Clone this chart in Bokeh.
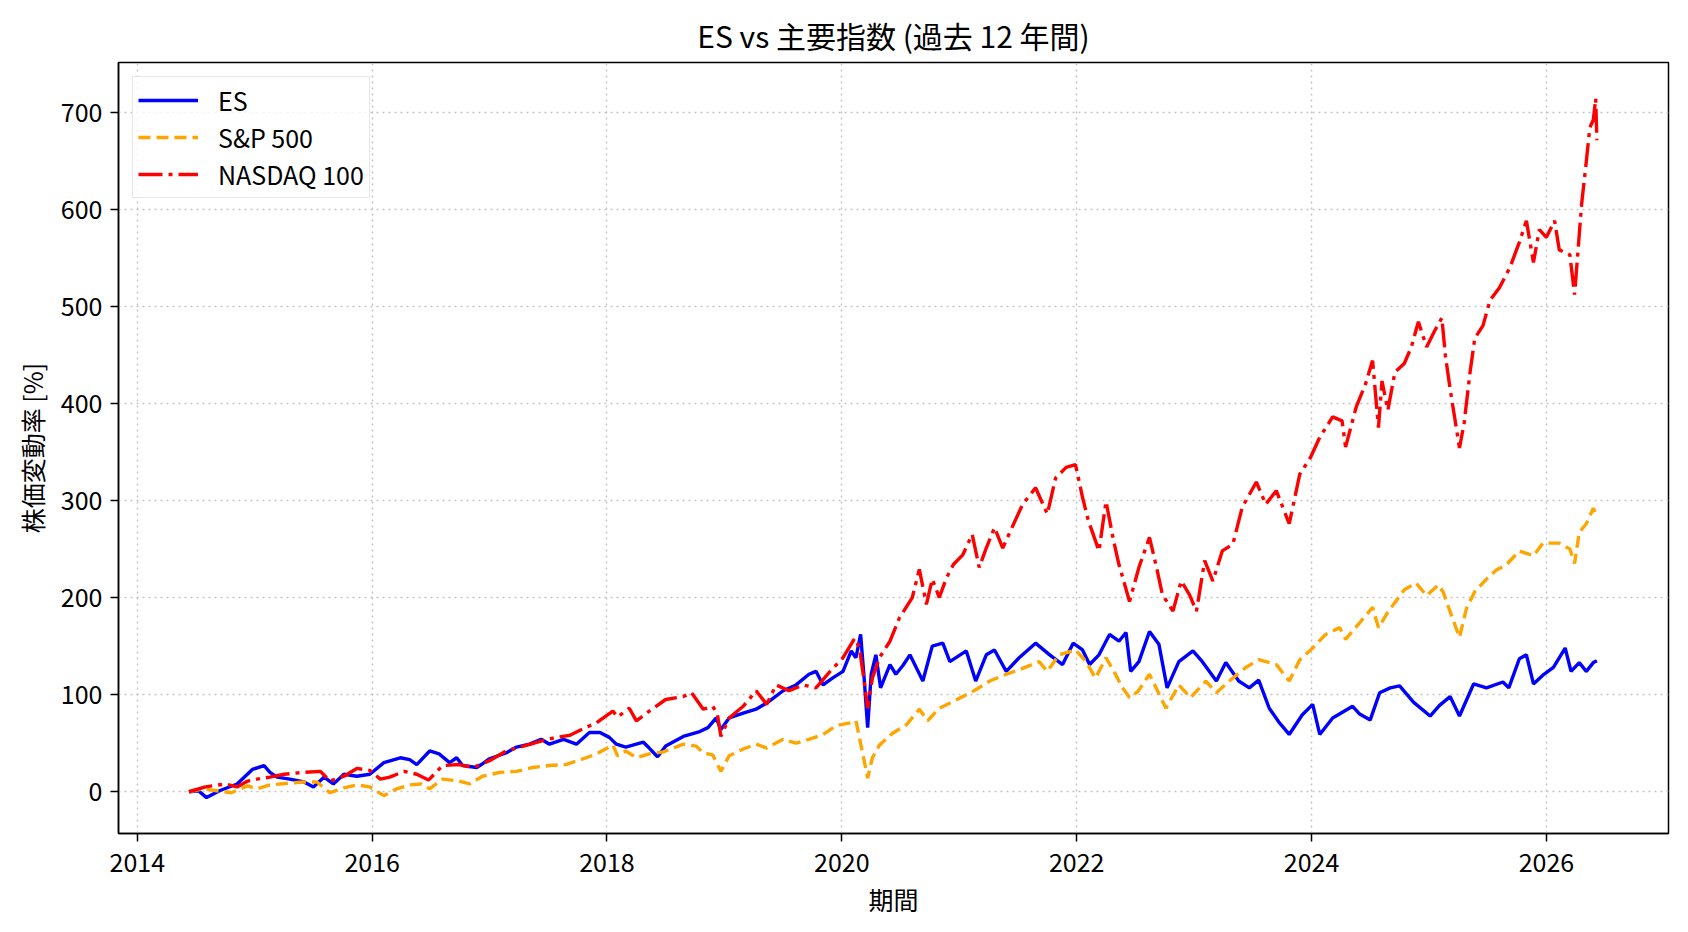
from bokeh.plotting import figure
from bokeh.models import Range1d, FixedTicker, Legend, LegendItem
from bokeh.embed import file_html
from bokeh.resources import INLINE

FONT = "Noto Sans CJK JP"

TITLE = "ES vs 主要指数 (過去 12 年間)"
X_LABEL = "期間"
Y_LABEL = "株価変動率 [%]"
X_TICKS = [2014, 2016, 2018, 2020, 2022, 2024, 2026]
Y_TICKS = [0, 100, 200, 300, 400, 500, 600, 700]

es_x = [2014.44, 2014.52, 2014.59, 2014.70, 2014.85, 2014.98, 2015.08, 2015.13, 2015.19, 2015.30,
        2015.42, 2015.50, 2015.59, 2015.67, 2015.76, 2015.87, 2015.98, 2016.10, 2016.24, 2016.32,
        2016.38, 2016.49, 2016.57, 2016.66, 2016.72, 2016.77, 2016.89, 2016.93, 2017.00, 2017.14,
        2017.23, 2017.34, 2017.44, 2017.51, 2017.63, 2017.74, 2017.85, 2017.94, 2018.02, 2018.08,
        2018.16, 2018.31, 2018.36, 2018.43, 2018.50, 2018.65, 2018.79, 2018.86, 2018.93, 2018.97,
        2019.04, 2019.16, 2019.27, 2019.38, 2019.50, 2019.61, 2019.72, 2019.78, 2019.84, 2019.92,
        2020.01, 2020.08, 2020.12, 2020.16, 2020.19, 2020.22, 2020.25, 2020.29, 2020.33, 2020.41,
        2020.46, 2020.52, 2020.58, 2020.69, 2020.77, 2020.86, 2020.92, 2021.06, 2021.14, 2021.23,
        2021.30, 2021.40, 2021.51, 2021.65, 2021.77, 2021.88, 2021.97, 2022.05, 2022.11, 2022.19,
        2022.28, 2022.36, 2022.42, 2022.46, 2022.53, 2022.62, 2022.70, 2022.77, 2022.87, 2022.99,
        2023.07, 2023.19, 2023.27, 2023.38, 2023.47, 2023.55, 2023.64, 2023.72, 2023.81, 2023.92,
        2024.01, 2024.07, 2024.18, 2024.35, 2024.41, 2024.50, 2024.58, 2024.67, 2024.75, 2024.87,
        2025.01, 2025.09, 2025.18, 2025.26, 2025.38, 2025.49, 2025.63, 2025.68, 2025.77, 2025.83,
        2025.89, 2025.97, 2026.06, 2026.16, 2026.21, 2026.28, 2026.34, 2026.40, 2026.43]
es_y = [0, 1, -6, 1, 8, 23, 27, 20, 15, 13,
        10, 5, 15, 8, 18, 16, 18, 30, 35, 33,
        28, 42, 39, 30, 35, 27, 25, 28, 34, 40,
        46, 49, 54, 49, 54, 49, 61, 61, 56, 49,
        46, 51, 45, 36, 47, 57, 62, 66, 76, 64,
        76, 81, 85, 93, 104, 110, 121, 124, 110, 117,
        124, 145, 138, 162, 117, 66, 121, 141, 107, 131,
        121, 130, 141, 114, 150, 153, 134, 145, 114, 141,
        146, 124, 138, 153, 141, 131, 153, 146, 131, 141,
        162, 155, 164, 124, 134, 165, 152, 107, 134, 145,
        134, 114, 133, 114, 107, 115, 86, 72, 59, 79,
        90, 59, 76, 88, 80, 74, 102, 107, 109, 92,
        78, 89, 98, 78, 111, 107, 113, 107, 137, 141,
        111, 120, 128, 148, 124, 133, 124, 133, 135]

sp_x = [2014.44, 2014.56, 2014.80, 2014.94, 2015.02, 2015.13, 2015.30, 2015.42, 2015.53, 2015.64,
        2015.76, 2015.87, 2015.98, 2016.10, 2016.21, 2016.32, 2016.42, 2016.49, 2016.60, 2016.74,
        2016.83, 2016.94, 2017.09, 2017.23, 2017.37, 2017.51, 2017.65, 2017.80, 2017.91, 2018.05,
        2018.09, 2018.16, 2018.25, 2018.36, 2018.48, 2018.65, 2018.76, 2018.82, 2018.90, 2018.97,
        2019.04, 2019.16, 2019.27, 2019.36, 2019.50, 2019.61, 2019.72, 2019.84, 2019.95, 2020.07,
        2020.12, 2020.18, 2020.22, 2020.26, 2020.32, 2020.43, 2020.55, 2020.66, 2020.73, 2020.83,
        2020.95, 2021.06, 2021.14, 2021.26, 2021.40, 2021.54, 2021.68, 2021.75, 2021.85, 2021.99,
        2022.08, 2022.16, 2022.25, 2022.33, 2022.39, 2022.45, 2022.52, 2022.62, 2022.76, 2022.87,
        2022.97, 2023.10, 2023.19, 2023.30, 2023.44, 2023.55, 2023.70, 2023.81, 2023.90, 2024.01,
        2024.12, 2024.24, 2024.29, 2024.41, 2024.52, 2024.57, 2024.65, 2024.79, 2024.89, 2024.98,
        2025.08, 2025.12, 2025.17, 2025.26, 2025.32, 2025.39, 2025.49, 2025.57, 2025.66, 2025.77,
        2025.89, 2025.97, 2026.11, 2026.20, 2026.24, 2026.28, 2026.34, 2026.40, 2026.43]
sp_y = [0, 3, -1, 6, 3, 7, 9, 10, 10, -1,
        4, 7, 5, -4, 3, 7, 8, 3, 13, 11,
        8, 16, 20, 21, 25, 27, 28, 34, 39, 48,
        37, 42, 35, 39, 41, 49, 47, 40, 38, 21,
        37, 44, 49, 45, 54, 50, 54, 59, 68, 71,
        73, 38, 14, 35, 48, 60, 69, 85, 73, 86,
        93, 100, 105, 114, 121, 127, 134, 124, 141, 146,
        134, 117, 138, 121, 107, 97, 103, 121, 86, 110,
        97, 114, 102, 114, 128, 136, 131, 114, 136, 148,
        162, 169, 157, 174, 190, 169, 185, 208, 215, 202,
        213, 206, 189, 159, 189, 206, 219, 228, 234, 248,
        243, 256, 256, 250, 235, 267, 276, 292, 284]

nq_x = [2014.44, 2014.58, 2014.75, 2014.85, 2014.94, 2015.02, 2015.13, 2015.25, 2015.42, 2015.56,
        2015.64, 2015.76, 2015.87, 2015.98, 2016.07, 2016.15, 2016.27, 2016.38, 2016.48, 2016.60,
        2016.74, 2016.86, 2017.00, 2017.14, 2017.29, 2017.46, 2017.57, 2017.68, 2017.80, 2017.91,
        2018.05, 2018.09, 2018.19, 2018.25, 2018.36, 2018.50, 2018.65, 2018.72, 2018.82, 2018.90,
        2018.94, 2018.97, 2019.04, 2019.16, 2019.27, 2019.36, 2019.44, 2019.55, 2019.67, 2019.78,
        2019.90, 2020.01, 2020.11, 2020.15, 2020.19, 2020.22, 2020.26, 2020.32, 2020.41, 2020.49,
        2020.60, 2020.66, 2020.72, 2020.77, 2020.83, 2020.89, 2020.95, 2021.03, 2021.11, 2021.17,
        2021.23, 2021.30, 2021.37, 2021.46, 2021.54, 2021.65, 2021.75, 2021.82, 2021.91, 2021.99,
        2022.05, 2022.10, 2022.19, 2022.25, 2022.31, 2022.36, 2022.45, 2022.53, 2022.62, 2022.68,
        2022.73, 2022.82, 2022.89, 2022.96, 2023.02, 2023.09, 2023.16, 2023.24, 2023.33, 2023.41,
        2023.53, 2023.61, 2023.70, 2023.81, 2023.90, 2023.99, 2024.07, 2024.18, 2024.26, 2024.29,
        2024.38, 2024.46, 2024.52, 2024.57, 2024.60, 2024.65, 2024.71, 2024.79, 2024.85, 2024.91,
        2024.98, 2025.05, 2025.11, 2025.14, 2025.18, 2025.26, 2025.30, 2025.35, 2025.39, 2025.46,
        2025.52, 2025.60, 2025.69, 2025.77, 2025.83, 2025.89, 2025.94, 2026.00, 2026.07, 2026.11,
        2026.20, 2026.24, 2026.27, 2026.30, 2026.34, 2026.37, 2026.40, 2026.42, 2026.43]
nq_y = [0, 5, 8, 5, 11, 13, 15, 18, 20, 21,
        11, 16, 24, 22, 13, 15, 21, 18, 12, 27,
        28, 25, 32, 42, 47, 53, 56, 58, 65, 71,
        83, 77, 86, 73, 83, 95, 98, 102, 85, 88,
        80, 57, 76, 88, 104, 90, 110, 104, 110, 107,
        124, 138, 158, 148, 114, 86, 117, 138, 155, 179,
        200, 229, 193, 219, 200, 220, 234, 244, 265, 231,
        251, 272, 251, 275, 296, 313, 286, 323, 334, 337,
        303, 279, 248, 299, 261, 234, 196, 231, 262, 231,
        203, 186, 217, 203, 186, 238, 217, 248, 255, 293,
        319, 296, 310, 276, 327, 344, 365, 386, 382, 355,
        396, 420, 444, 375, 423, 393, 432, 441, 458, 484,
        458, 475, 488, 449, 415, 354, 380, 432, 467, 480,
        506, 519, 540, 566, 588, 545, 579, 571, 588, 558,
        553, 512, 558, 605, 649, 684, 692, 714, 671]

SERIES = [
    ("ES", es_x, es_y, "#0000ff", "solid"),
    ("S&P 500", sp_x, sp_y, "#ffa500", "12 6"),
    ("NASDAQ 100", nq_x, nq_y, "#ff0000", "24 6 4 6"),
]

p = figure(width=1688, height=932, output_backend="svg", toolbar_location=None,
           x_range=Range1d(2013.84, 2027.04), y_range=Range1d(-43, 751),
           min_border_left=118, min_border_right=20, min_border_top=62, min_border_bottom=99,
           background_fill_color="white", border_fill_color="white")

p.title.text = TITLE
p.title.align = "center"
p.title.text_font = FONT
p.title.text_font_size = "30px"
p.title.text_font_style = "normal"
p.title.text_color = "black"
p.title.standoff = 12

p.outline_line_color = "black"
p.outline_line_width = 1.5
p.outline_line_alpha = 1.0

for ax in (p.xaxis[0], p.yaxis[0]):
    ax.axis_line_color = "black"
    ax.axis_line_width = 1.5
    ax.major_tick_line_color = "black"
    ax.major_tick_line_width = 1.5
    ax.major_tick_out = 8
    ax.major_tick_in = 0
    ax.minor_tick_line_color = None
    ax.major_label_text_font = FONT
    ax.major_label_text_font_size = "25px"
    ax.major_label_text_color = "black"
    ax.axis_label_text_font = FONT
    ax.axis_label_text_font_size = "25px"
    ax.axis_label_text_font_style = "normal"
    ax.axis_label_text_color = "black"

p.xaxis.ticker = FixedTicker(ticks=X_TICKS)
p.yaxis.ticker = FixedTicker(ticks=Y_TICKS)
p.xaxis.axis_label = X_LABEL
p.yaxis.axis_label = Y_LABEL
p.xaxis.major_label_standoff = 11
p.yaxis.major_label_standoff = 8
p.xaxis.axis_label_standoff = 6
p.yaxis.axis_label_standoff = 8

p.grid.grid_line_color = "#c4c4c4"
p.grid.grid_line_width = 1.5
p.grid.grid_line_dash = "2 4"

items = []
for name, xs, ys, color, dash in SERIES:
    r = p.line(xs, ys, line_color=color, line_width=3.4, line_dash=dash)
    items.append(LegendItem(label=name, renderers=[r]))

legend = Legend(items=items, location="top_left")
legend.margin = 14
legend.padding = 5
legend.spacing = 1
legend.glyph_width = 60
legend.glyph_height = 28
legend.label_height = 28
legend.label_standoff = 20
legend.label_text_font = FONT
legend.label_text_font_size = "25px"
legend.label_text_color = "black"
legend.border_line_color = "#d0d0d0"
legend.border_line_width = 1.5
legend.background_fill_color = "white"
legend.background_fill_alpha = 0.8
p.add_layout(legend, "center")

open("out.html", "w").write(file_html(p, INLINE))
